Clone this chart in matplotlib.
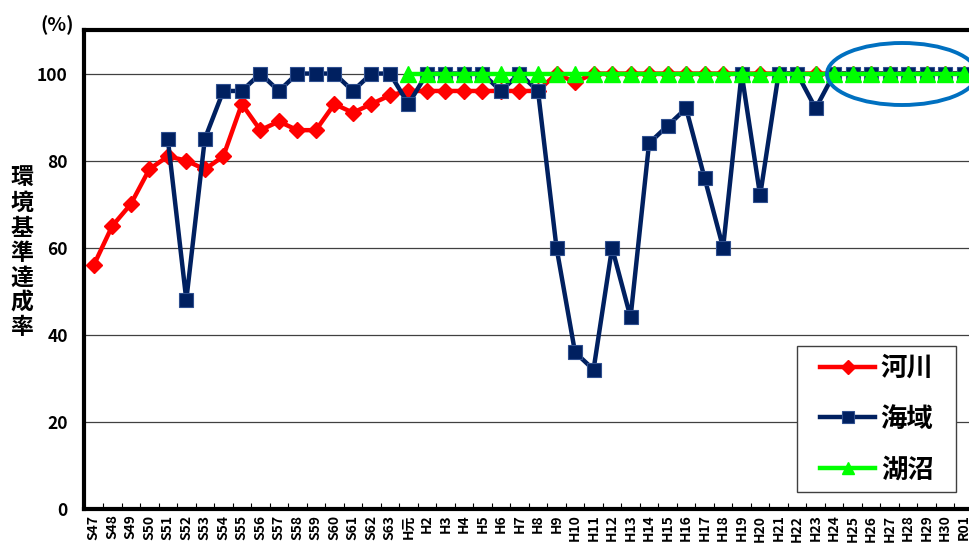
import matplotlib
matplotlib.use("Agg")
import matplotlib.pyplot as plt
from matplotlib.patches import Ellipse, Rectangle
import numpy as np

plt.rcParams['font.family'] = ['Noto Sans CJK JP', 'DejaVu Sans']
plt.rcParams['font.weight'] = 'bold'

categories = (["S47", "S48", "S49", "S50", "S51", "S52", "S53", "S54", "S55", "S56",
               "S57", "S58", "S59", "S60", "S61", "S62", "S63", "H元"]
              + ["H%d" % k for k in range(2, 31)] + ["R01"])

river = [56, 65, 70, 78, 81, 80, 78, 81, 93, 87, 89, 87, 87, 93, 91, 93, 95,
         96, 96, 96, 96, 96, 96, 96, 96, 100, 98, 100, 100, 100, 100, 100, 100,
         100, 100, 100, 100, 100, 100, 100, 100, 100, 100, 100, 100, 100, 100, 100]

sea = [None, None, None, None, 85, 48, 85, 96, 96, 100, 96, 100, 100, 100, 96, 100, 100,
       93, 100, 100, 100, 100, 96, 100, 96, 60, 36, 32, 60, 44, 84, 88, 92,
       76, 60, 100, 72, 100, 100, 92, 100, 100, 100, 100, 100, 100, 100, 100]

lake = [None] * 17 + [100] * 31

series_labels = ["河川", "海域", "湖沼"]
yticks = [0, 20, 40, 60, 80, 100]

W, H = 970, 544
fig = plt.figure(figsize=(W / 100, H / 100), dpi=100)
ax_left, ax_right, ax_bot, ax_top = 84.5, 973, 509, 30
ax = fig.add_axes([ax_left / W, (H - ax_bot) / H, (ax_right - ax_left) / W, (ax_bot - ax_top) / H])

x = np.arange(len(categories))
def arr(v):
    return np.array([np.nan if a is None else a for a in v], dtype=float)

ax.plot(x, arr(river), color='#FF0000', lw=3.2, marker='D', ms=8,
        mfc='#FF0000', mec='#FF0000', label=series_labels[0], zorder=3)
ax.plot(x, arr(sea), color='#002060', lw=3.2, marker='s', ms=10,
        mfc='#002060', mec='#2F4F8F', mew=0.8, label=series_labels[1], zorder=4)
ax.plot(x, arr(lake), color='#00FF00', lw=3.2, marker='^', ms=11,
        mfc='#00FF00', mec='#00FF00', label=series_labels[2], zorder=5)

ax.set_xlim(-0.5, len(categories) - 0.5)
ax.set_ylim(0, 110)
ax.set_yticks(yticks)
ax.set_yticklabels([str(t) for t in yticks], fontsize=12.5, fontweight='bold')
ax.tick_params(axis='y', length=0, pad=12)
ax.yaxis.grid(True, color='#404040', lw=0.9)
ax.set_axisbelow(True)

ax.set_xticks(x)
ax.set_xticklabels(categories, rotation=90, fontsize=10, fontweight='bold',
                   family=['Liberation Sans Narrow', 'Noto Sans CJK JP'])
ax.tick_params(axis='x', which='major', length=0, pad=4)
ax.set_xticks(np.arange(len(categories) - 1) + 0.5, minor=True)
ax.tick_params(axis='x', which='minor', direction='in', length=4, width=0.8)

for s in ['left', 'bottom', 'top']:
    ax.spines[s].set_linewidth(3)
ax.spines['right'].set_visible(False)

# legend frame
frame = Rectangle((797 / W, 1 - 492 / H), 159 / W, 146 / H, transform=fig.transFigure,
                  facecolor='white', edgecolor='#404040', lw=1.0, zorder=9, clip_on=False)
ax.add_artist(frame)

leg = ax.legend(loc='center left', bbox_to_anchor=(820 / W, 1 - 419 / H),
                bbox_transform=fig.transFigure,
                frameon=False, prop={'size': 19, 'weight': 'bold'}, handlelength=2.1,
                labelspacing=0.9, borderpad=0, handletextpad=0.2, markerscale=0.85,
                borderaxespad=0)
leg.set_zorder(10)

ell = Ellipse((902, H - 74), 150, 62, transform=None, fill=False,
              edgecolor='#0070C0', lw=2.8, zorder=11, clip_on=False)
ax.add_artist(ell)

fig.text(57 / W, 1 - 25 / H, "(%)", fontsize=14, fontweight='bold', ha='center', va='center')
ylabel = "環境基準達成率"
for i, ch in enumerate(ylabel):
    fig.text(22 / W, 1 - (178 + i * 25) / H, ch, fontsize=16.5, fontweight='bold',
             ha='center', va='center')

fig.savefig("out.png", dpi=100)
